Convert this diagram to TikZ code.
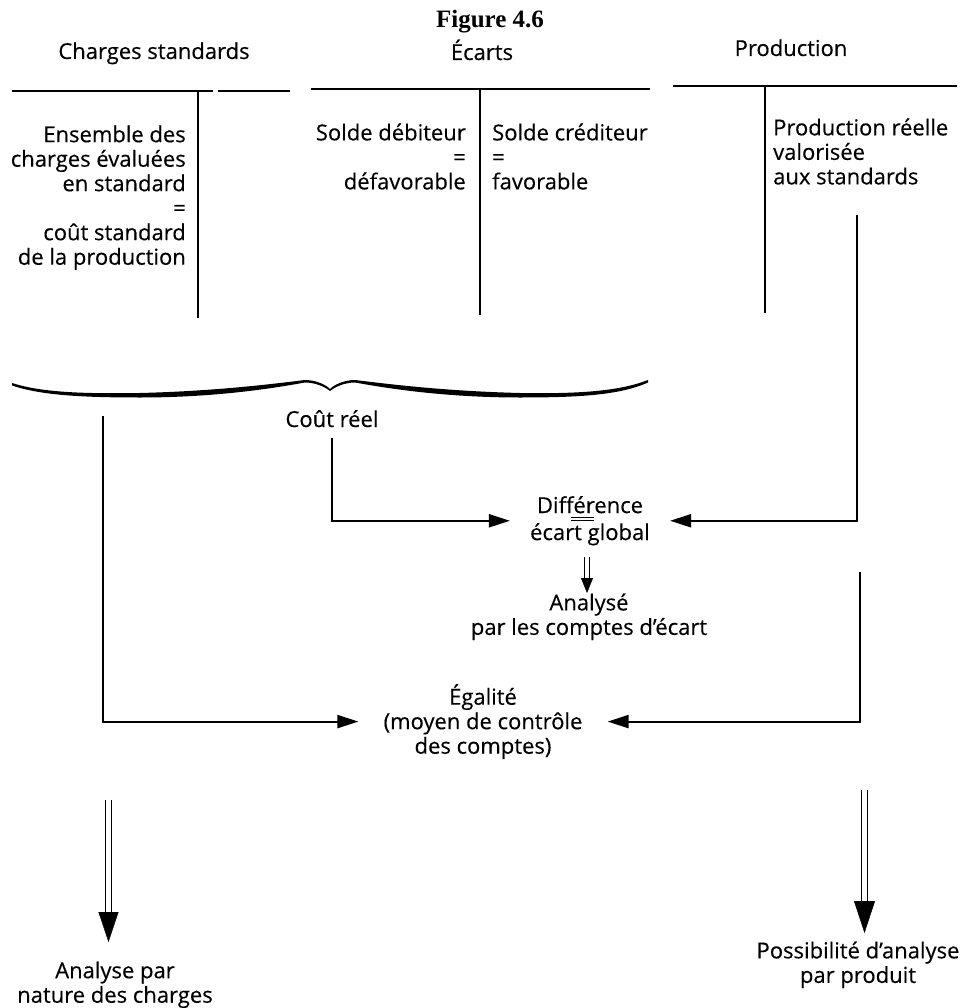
\documentclass[tikz,border=0pt]{standalone}
\usepackage{fontspec}
\setmainfont{Open Sans}[FakeBold=0.3]
\newfontfamily\titlefont{Liberation Serif}
\usetikzlibrary{arrows.meta,calc}
\begin{document}
\begin{tikzpicture}[x=1pt,y=-1pt,
  txt/.style={font=\fontsize{22}{24.5}\selectfont, inner sep=0pt},
  tline/.style={line width=2.2pt},
  conn/.style={line width=2pt},
  arr/.style={conn, -{Triangle[length=21pt,width=13pt]}},
  bigdbl/.style={line width=1.3pt, double distance=5.2pt},
  smalldbl/.style={line width=1pt, double distance=3.2pt},
  ]
\useasboundingbox (0,0) rectangle (971,1008);

% title and headings
\node[anchor=base, inner sep=0pt, font=\titlefont\bfseries\fontsize{25}{28}\selectfont] (title) at (490,28) {Figure 4.6};
\node[txt, anchor=base] (hC) at (154,59) {Charges standards};
\node[txt, anchor=base] (hE) at (482,60) {Écarts};
\node[txt, anchor=base] (hP) at (791,56) {Production};

% T accounts
\draw[tline] (12,91) -- (213,91) (218,91) -- (290,91);
\draw[tline] (198,91) -- (198,318);
\draw[tline] (311,89) -- (650,89);
\draw[tline] (480,89) -- (480,315);
\draw[tline] (673,86) -- (957,86);
\draw[tline] (765,86) -- (765,313);

\node[txt, align=right, anchor=north east] (tC) at (186,125.3) {Ensemble des\\charges évaluées\\en standard\\=\\coût standard\\de la production};
\node[txt, align=right, anchor=north east] (tDeb) at (466,123.3) {Solde débiteur\\=\\défavorable};
\node[txt, align=left, anchor=north west] (tCred) at (492,123.3) {Solde créditeur\\=\\favorable};
\node[txt, align=left, anchor=north west] (tP) at (773,118.3) {Production réelle\\valorisée\\aux standards};

% brace
\fill (12,383) .. controls (40,392) and (80,394) .. (140,393)
  .. controls (220,391) and (280,383) .. (305,380)
  .. controls (315,380) and (325,384) .. (330,389)
  .. controls (335,384) and (345,380) .. (355,380)
  .. controls (380,383) and (440,391) .. (520,393)
  .. controls (580,394) and (620,391) .. (648,380)
  -- (648,382.5)
  .. controls (620,395) and (580,397.5) .. (520,397.5)
  .. controls (440,397.5) and (380,387) .. (355,382.5)
  .. controls (346,382.5) and (336,386) .. (330,391)
  .. controls (324,386) and (314,382.5) .. (305,382.5)
  .. controls (280,387) and (220,397.5) .. (140,397.5)
  .. controls (80,397.5) and (40,395) .. (12,385.5) -- cycle;

\node[txt, anchor=base] (cout) at (332,427) {Coût réel};

% central texts
\node[txt, align=center, anchor=north, inner xsep=20pt] (diff) at (590,496) {Différence\\[2.5pt]écart global};
\draw[line width=1pt] (571,517) -- (594,517) (571,520.5) -- (594,520.5);
\node[txt, align=center, anchor=north] (anal) at (589,593.3) {Analysé\\par les comptes d’écart};
\node[txt, align=center, anchor=north, inner xsep=25pt] (egal) at (483,684) {Égalité\\(moyen de contrôle\\des comptes)};

\node[txt, align=center, anchor=north] (botL) at (115,961.3) {Analyse par\\nature des charges};
\node[txt, align=center, anchor=north] (botR) at (858,941.3) {Possibilité d’analyse\\par produit};

% connectors
\coordinate (lTop) at (103,416);
\coordinate (pSrc) at (857,215);
\coordinate (pSrc2) at (860,572);
\draw[arr, shorten <=11pt] (cout.south) |- (diff.west);
\draw[arr] (pSrc) |- (diff.east);
\draw[arr] (lTop) |- (egal.west);
\draw[arr] (pSrc2) |- (egal.east);

% double arrows
\coordinate (dS) at (587,557);
\coordinate (dE) at (587,593);
\draw[smalldbl, shorten >=13pt] (dS) -- (dE);
\draw[-{Triangle[length=15pt,width=12pt]}, line width=0.4pt] (587,580) -- (dE);

\coordinate (lS) at (108.5,800);
\coordinate (lE) at (108.5,942);
\draw[bigdbl, shorten >=28pt] (lS) -- (lE);
\draw[-{Triangle[length=30pt,width=20pt]}, line width=0.4pt] (108.5,915) -- (lE);

\coordinate (rS) at (864.5,790);
\coordinate (rE) at (864.5,933);
\draw[bigdbl, shorten >=28pt] (rS) -- (rE);
\draw[-{Triangle[length=32pt,width=21pt]}, line width=0.4pt] (864.5,905) -- (rE);
\end{tikzpicture}
\end{document}
